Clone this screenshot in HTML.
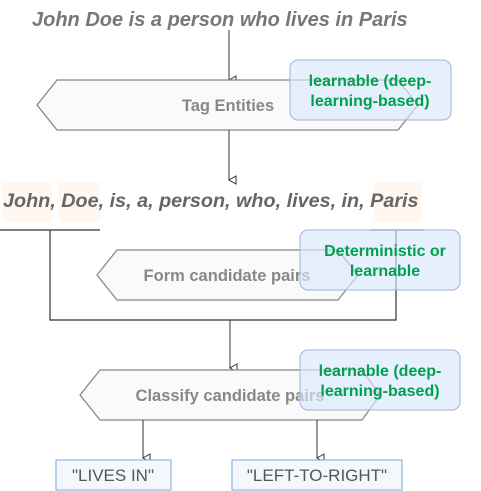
<!DOCTYPE html>
<html><head><style>html,body{margin:0;padding:0;background:#fff}svg{display:block}</style></head>
<body>
<svg width="481" height="491" viewBox="0 0 481 491" xmlns="http://www.w3.org/2000/svg" font-family="Liberation Sans, sans-serif">
<defs>
<marker id="a" markerWidth="10" markerHeight="10" refX="5" refY="8" orient="auto" markerUnits="userSpaceOnUse"><path d="M1,1 L5,8 L9,1 Z" fill="#fff" stroke="#333" stroke-width="1"/></marker>
</defs>
<text x="32" y="26" font-size="20" font-weight="bold" font-style="italic" fill="#777">John Doe is a person who lives in Paris</text>
<line x1="229" y1="30" x2="229" y2="80" stroke="#333" marker-end="url(#a)"/>
<polygon points="37,105 57,80 398,80 418,105 398,130 57,130" fill="#fafafa" stroke="#888" stroke-width="1.3"/>
<text x="228" y="111" font-size="16.5" font-weight="bold" fill="#888" text-anchor="middle">Tag Entities</text>
<rect x="290" y="60" width="161" height="60" rx="8" fill="#dae8fc" fill-opacity="0.65" stroke="#9db4d8"/>
<text x="370" y="86" font-size="16" font-weight="bold" fill="#00a050" text-anchor="middle">learnable (deep-</text>
<text x="370" y="106" font-size="16" font-weight="bold" fill="#00a050" text-anchor="middle">learning-based)</text>
<line x1="229" y1="130" x2="229" y2="180" stroke="#333" marker-end="url(#a)"/>
<rect x="3" y="182" width="49" height="40" fill="#fff7f0"/>
<rect x="59" y="182" width="41" height="40" fill="#fff7f0"/>
<rect x="373" y="182" width="48" height="40" fill="#fff7f0"/>
<text x="3" y="207" font-size="19.8" font-weight="bold" font-style="italic" fill="#666">John, Doe, is, a, person, who, lives, in, Paris</text>
<g stroke="#333" fill="none" stroke-width="1.2">
<line x1="0" y1="230" x2="100" y2="230"/>
<line x1="370" y1="230" x2="424" y2="230"/>
<polyline points="50,230 50,320 396,320 396,230"/>
</g>
<polygon points="97,275 117,250 338,250 358,275 338,300 117,300" fill="#fafafa" stroke="#888" stroke-width="1.3"/>
<text x="227" y="281" font-size="16.5" font-weight="bold" fill="#888" text-anchor="middle">Form candidate pairs</text>
<rect x="300" y="230" width="160" height="60" rx="8" fill="#dae8fc" fill-opacity="0.65" stroke="#9db4d8"/>
<text x="385" y="256" font-size="16" font-weight="bold" fill="#00a050" text-anchor="middle">Deterministic or</text>
<text x="385" y="276" font-size="16" font-weight="bold" fill="#00a050" text-anchor="middle">learnable</text>
<line x1="230" y1="320" x2="230" y2="368" stroke="#333" marker-end="url(#a)"/>
<polygon points="80,395 100,370 362,370 380,395 362,420 100,420" fill="#fafafa" stroke="#888" stroke-width="1.3"/>
<text x="230" y="401" font-size="16.5" font-weight="bold" fill="#888" text-anchor="middle">Classify candidate pairs</text>
<rect x="300" y="350" width="160" height="60" rx="8" fill="#dae8fc" fill-opacity="0.65" stroke="#9db4d8"/>
<text x="380" y="376" font-size="16" font-weight="bold" fill="#00a050" text-anchor="middle">learnable (deep-</text>
<text x="380" y="396" font-size="16" font-weight="bold" fill="#00a050" text-anchor="middle">learning-based)</text>
<line x1="143" y1="420" x2="143" y2="458" stroke="#333" marker-end="url(#a)"/>
<line x1="317" y1="420" x2="317" y2="458" stroke="#333" marker-end="url(#a)"/>
<rect x="56" y="460" width="115" height="30" fill="#f4f8fd" stroke="#7ea6e0"/>
<text x="113" y="481" font-size="17" fill="#555" text-anchor="middle">"LIVES IN"</text>
<rect x="232" y="460" width="170" height="30" fill="#f4f8fd" stroke="#7ea6e0"/>
<text x="317" y="481" font-size="17" fill="#555" text-anchor="middle">"LEFT-TO-RIGHT"</text>
</svg>
</body></html>
